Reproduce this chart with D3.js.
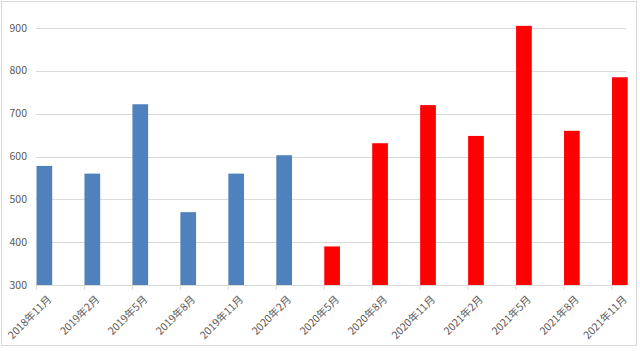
<!DOCTYPE html>
<html>
<head>
<meta charset="utf-8">
<script src="https://cdn.jsdelivr.net/npm/d3@7"></script>
<style>
    body { margin: 0; background: #fff; }
    svg { display: block; }
    text { font-family: "Noto Sans CJK JP", "Noto Sans", sans-serif; fill: #595959; }
</style>
</head>
<body>
<svg width="640" height="351"></svg>
<script>
const months = ["2018年11月", "2019年2月", "2019年5月", "2019年8月", "2019年11月", "2020年2月",
    "2020年5月", "2020年8月", "2020年11月", "2021年2月", "2021年5月", "2021年8月", "2021年11月"];
const values = [578, 560, 722, 470, 560, 603, 390, 631, 720, 648, 905, 660, 785];
const period = ["a", "a", "a", "a", "a", "a", "b", "b", "b", "b", "b", "b", "b"];
const yTicks = [300, 400, 500, 600, 700, 800, 900];

const svg = d3.select("svg");

// outer frame
svg.append("rect")
    .attr("x", 1.5).attr("y", 1.5)
    .attr("width", 635).attr("height", 344)
    .attr("fill", "none")
    .attr("stroke", "#d9d9d9");

const x = d3.scalePoint()
    .domain(months)
    .range([36, 611.5]);

const y = d3.scaleLinear()
    .domain([300, 900])
    .range([285, 28]);

const barW = 15.7;
const plotRight = 626;

// grid
svg.append("g").attr("class", "grid")
    .selectAll("line")
    .data(yTicks.slice(1))
    .enter().append("line")
    .attr("x1", 36).attr("x2", plotRight)
    .attr("y1", d => Math.round(y(d)) + 0.5)
    .attr("y2", d => Math.round(y(d)) + 0.5)
    .attr("stroke", "#d9d9d9");

// y labels
svg.append("g")
    .selectAll("text")
    .data(yTicks)
    .enter().append("text")
    .attr("x", 27)
    .attr("y", d => y(d) + 3.5)
    .attr("text-anchor", "end")
    .style("font-size", "10.5px")
    .text(d => d);

// bars
svg.append("g").attr("class", "bars")
    .selectAll("rect")
    .data(months)
    .enter().append("rect")
    .attr("x", d => x(d) + 0.5)
    .attr("y", (d, i) => y(values[i]))
    .attr("width", barW)
    .attr("height", (d, i) => y(300) - y(values[i]))
    .attr("fill", (d, i) => period[i] === "a" ? "#4f81bd" : "#ff0000");

// x axis
const xAxis = svg.append("g")
    .attr("transform", `translate(0,${Math.round(y(300)) + 0.5})`)
    .call(d3.axisBottom(x).tickSize(4).tickSizeOuter(0).tickPadding(4));

xAxis.select(".domain")
    .attr("stroke", "#d9d9d9")
    .attr("d", `M36,0H${plotRight}`);
xAxis.selectAll(".tick line").attr("stroke", "#d9d9d9");
xAxis.selectAll(".tick text")
    .style("font-size", "10.5px")
    .style("fill", "#595959")
    .attr("text-anchor", "end")
    .attr("dy", "0")
    .attr("transform", "translate(10,9) rotate(-45)");
</script>
</body>
</html>
